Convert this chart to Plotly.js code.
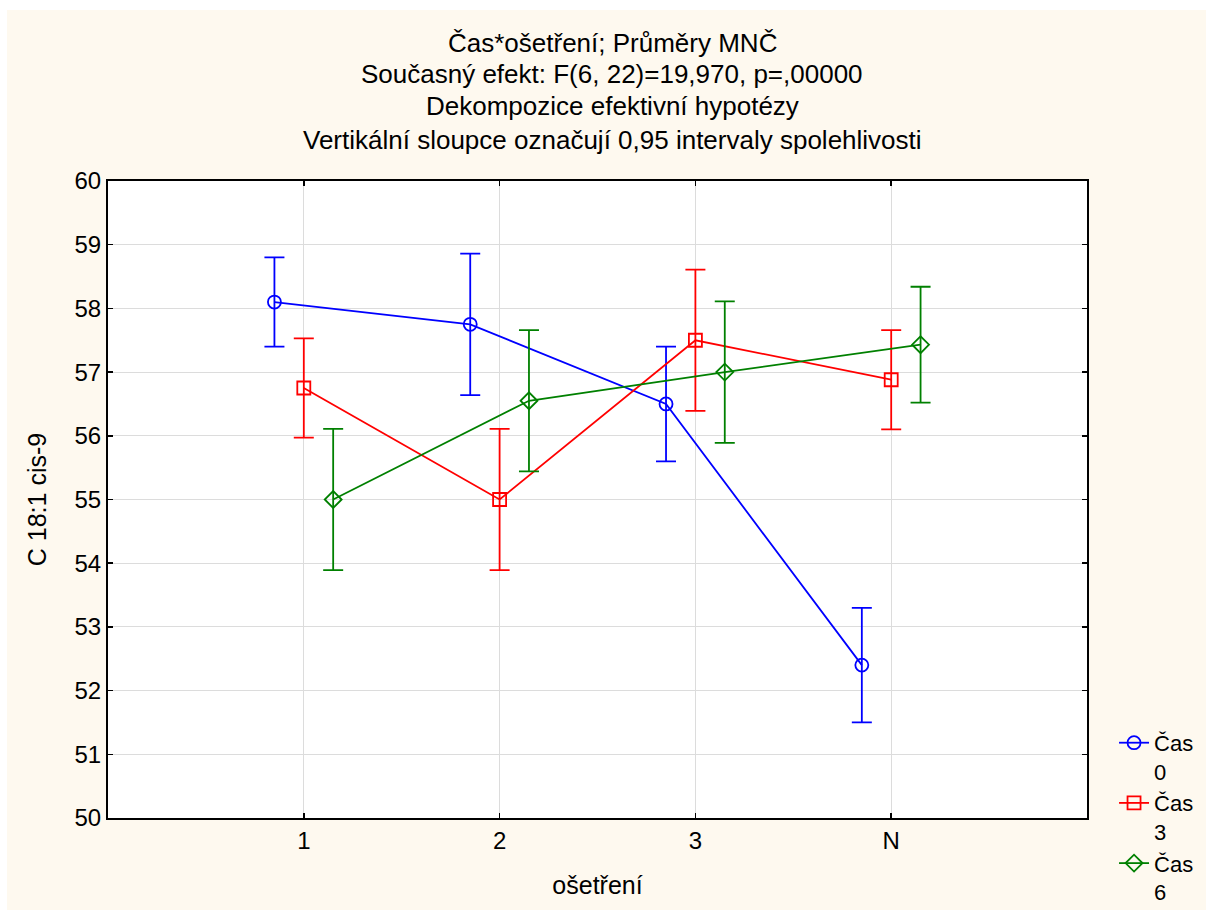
<!DOCTYPE html>
<html><head><meta charset="utf-8">
<script src="https://cdn.plot.ly/plotly-3.0.1.min.js"></script>
<style>html,body{margin:0;padding:0;background:#ffffff;}#chart{position:absolute;left:7px;top:10px;width:1199px;height:900px;}</style>
</head><body><div id="chart"></div>
<script>
const categories = ['1', '2', '3', 'N'];
const seriesNames = ['Čas<br>0', 'Čas<br>3', 'Čas<br>6'];
const titleLines = ['Čas*ošetření; Průměry MNČ',
                    'Současný efekt: F(6, 22)=19,970, p=,00000',
                    'Dekompozice efektivní hypotézy',
                    'Vertikální sloupce označují 0,95 intervaly spolehlivosti'];
const means0 = [58.10, 57.75, 56.50, 52.40];
const err0   = [0.70, 1.11, 0.90, 0.90];
const means3 = [56.75, 55.00, 57.50, 56.88];
const err3   = [0.78, 1.11, 1.11, 0.78];
const means6 = [55.00, 56.55, 57.00, 57.43];
const err6   = [1.11, 1.11, 1.11, 0.91];
const offsets = [-0.15, 0, 0.15];
const colors = ['#0000ff', '#ff0000', '#008000'];
const symbols = ['circle-open', 'square-open', 'diamond-open'];
const means = [means0, means3, means6];
const errs = [err0, err3, err6];

const traces = means.map((m, i) => ({
  type: 'scatter', mode: 'lines+markers', name: seriesNames[i],
  x: categories.map((c, k) => k + 1 + offsets[i]),
  y: m,
  line: {color: colors[i], width: 1.8},
  marker: {symbol: symbols[i], size: 13, color: colors[i], line: {width: 1.8, color: colors[i]}},
  error_y: {type: 'data', array: errs[i], visible: true, color: colors[i], thickness: 1.8, width: 10}
}));

const titleY = [1.2166, 1.168, 1.1177, 1.0644];
const annotations = titleLines.map((t, i) => ({
  text: t, xref: 'paper', yref: 'paper', x: 0.515, y: titleY[i],
  xanchor: 'center', yanchor: 'middle', showarrow: false, font: {size: 26}
}));

const layout = {
  width: 1199, height: 900,
  paper_bgcolor: '#fef9ef', plot_bgcolor: '#ffffff',
  font: {family: 'Liberation Sans, Arial, sans-serif', size: 24, color: '#000'},
  margin: {l: 101, r: 119, t: 171, b: 92},
  annotations: annotations,
  xaxis: {range: [0, 5], tickvals: categories.map((c, k) => k + 1), ticktext: categories,
          showgrid: true, gridcolor: '#dcdcdc', gridwidth: 1, zeroline: false,
          showline: true, linecolor: '#000', linewidth: 2, mirror: 'ticks',
          ticks: 'inside', ticklen: 5, tickcolor: '#000', tickwidth: 1.5,
          tickfont: {size: 24}, automargin: false,
          title: {text: 'ošetření', font: {size: 25}, standoff: 24}},
  yaxis: {range: [50, 60], dtick: 1, showgrid: true, gridcolor: '#dcdcdc', gridwidth: 1, zeroline: false,
          showline: true, linecolor: '#000', linewidth: 2, mirror: 'ticks',
          ticks: 'inside', ticklen: 5, tickcolor: '#000', tickwidth: 1.5,
          tickfont: {size: 24}, automargin: false,
          title: {text: 'C 18:1 cis-9', font: {size: 25}, standoff: 21}},
  legend: {xref: 'container', yref: 'container', x: 0.9233, xanchor: 'left', y: 0.209, yanchor: 'top',
           bgcolor: 'rgba(0,0,0,0)', font: {size: 22}, tracegroupgap: 0, valign: 'top'},
  showlegend: true
};
Plotly.newPlot('chart', traces, layout, {displayModeBar: false, staticPlot: true});
</script></body></html>
